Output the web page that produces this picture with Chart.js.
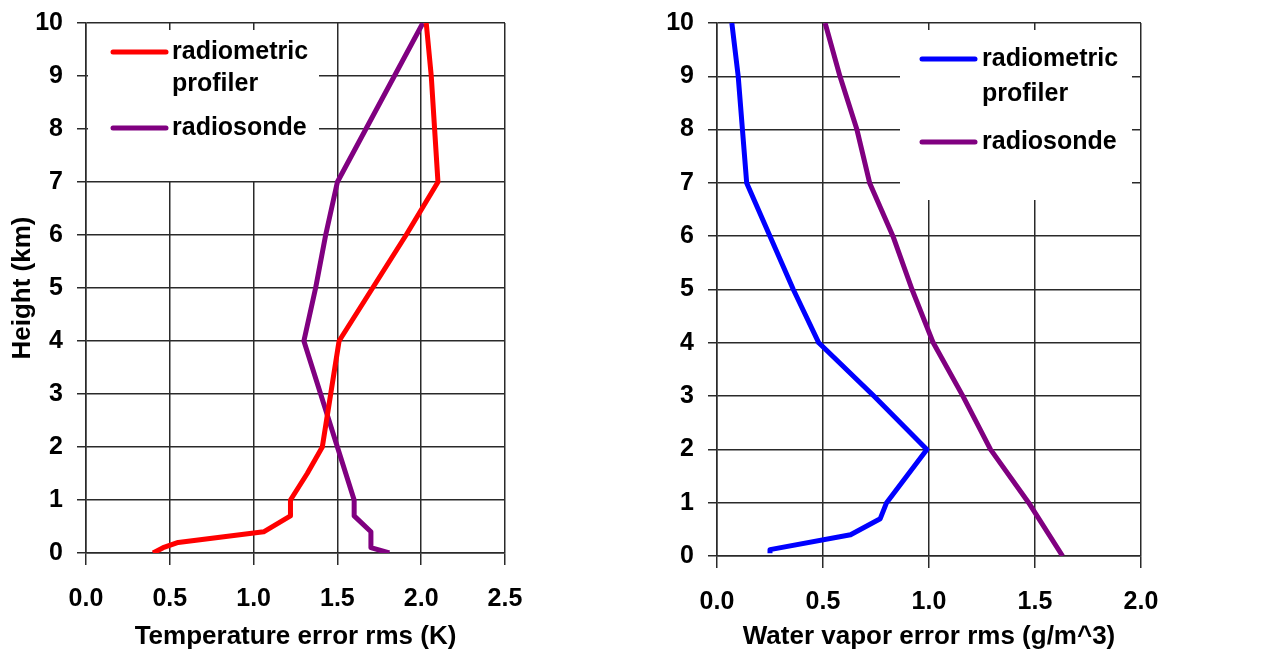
<!DOCTYPE html>
<html>
<head>
<meta charset="utf-8">
<script src="https://cdn.jsdelivr.net/npm/chart.js@4.4.0/dist/chart.umd.min.js"></script>
<style>
  body { margin: 0; background: #fff; }
  .wrap { position: absolute; top: 0; height: 652px; }
  #leftWrap { left: 0; width: 640px; }
  #rightWrap { left: 640px; width: 643px; }
</style>
</head>
<body>
<div class="wrap" id="leftWrap"><canvas id="tempChart"></canvas></div>
<div class="wrap" id="rightWrap"><canvas id="vaporChart"></canvas></div>
<script>
// TEMPERATURE PANEL DATA (height km -> rms error K)
const tempProfilerHeights = [0, 0.1, 0.2, 0.4, 0.7, 1, 1.5, 2, 3, 4, 5, 6, 7, 8, 9, 10];
const tempProfilerErr = [0.40, 0.46, 0.55, 1.06, 1.22, 1.22, 1.32, 1.41, 1.46, 1.51, 1.71, 1.91, 2.10, 2.08, 2.06, 2.03];
const tempSondeHeights = [0, 0.1, 0.4, 0.7, 1, 2, 3, 4, 5, 6, 7, 8, 9, 10];
const tempSondeErr = [1.81, 1.70, 1.70, 1.60, 1.60, 1.50, 1.40, 1.30, 1.37, 1.43, 1.50, 1.67, 1.84, 2.01];

// WATER VAPOR PANEL DATA (height km -> rms error g/m^3)
const vaporProfilerHeights = [0.05, 0.12, 0.4, 0.7, 1, 2, 3, 4, 5, 6, 7, 8, 9, 10];
const vaporProfilerErr = [0.25, 0.25, 0.63, 0.77, 0.80, 0.99, 0.74, 0.48, 0.36, 0.25, 0.14, 0.12, 0.10, 0.07];
const vaporSondeHeights = [0, 1, 2, 3, 4, 5, 6, 7, 8, 9, 10];
const vaporSondeErr = [1.63, 1.47, 1.29, 1.16, 1.02, 0.92, 0.83, 0.72, 0.66, 0.58, 0.51];

// LABELS
const profilerLabel = ["radiometric", "profiler"];
const sondeLabel = ["radiosonde"];
const heightTitle = "Height (km)";
const tempTitle = "Temperature error rms (K)";
const vaporTitle = "Water vapor error rms (g/m^3)";

const FONT = "'Liberation Sans', Arial, sans-serif";
const GRID = "#2a2a2a";

Chart.defaults.font.family = FONT;
Chart.defaults.font.weight = "bold";
Chart.defaults.color = "#000";

function toPoints(heights, values) {
  return heights.map((h, i) => ({ x: values[i], y: h }));
}

function lineSet(label, heights, values, color) {
  return {
    label: label.join(" "),
    data: toPoints(heights, values),
    showLine: true,
    borderColor: color,
    backgroundColor: color,
    borderWidth: 5,
    pointRadius: 0,
    tension: 0,
    borderJoinStyle: "round"
  };
}

// legend drawn inside the plot on a white box
const boxLegend = {
  id: "boxLegend",
  beforeDatasetsDraw(chart, args, opts) {
    const ctx = chart.ctx;
    const a = chart.chartArea;
    ctx.save();
    ctx.fillStyle = "#fff";
    ctx.fillRect(a.left + opts.box[0], a.top + opts.box[1],
      opts.box[2] - opts.box[0], opts.box[3] - opts.box[1]);
    ctx.font = "bold 25px " + FONT;
    ctx.textBaseline = "middle";
    ctx.lineCap = "round";
    chart.data.datasets.forEach((ds, i) => {
      const y = a.top + opts.rows[i];
      ctx.strokeStyle = ds.borderColor;
      ctx.lineWidth = 5;
      ctx.beginPath();
      ctx.moveTo(a.left + opts.sample[0], y);
      ctx.lineTo(a.left + opts.sample[1], y);
      ctx.stroke();
      ctx.fillStyle = "#000";
      opts.labels[i].forEach((line, j) => {
        ctx.fillText(line, a.left + opts.textX, y + j * opts.gap);
      });
    });
    ctx.restore();
  }
};

function xScale(max, title, height) {
  return {
    type: "linear",
    min: 0,
    max: max,
    ticks: {
      stepSize: 0.5,
      padding: 19,
      font: { size: 25, weight: "bold" },
      callback: v => v.toFixed(1)
    },
    grid: { color: GRID, lineWidth: 1.5, tickLength: 12, tickColor: GRID },
    border: { color: GRID, width: 1.5 },
    title: { display: true, text: title, font: { size: 26, weight: "bold" }, padding: { top: 0, bottom: 0 } },
    afterFit: s => { s.height = height; }
  };
}

function yScale(width, title) {
  return {
    type: "linear",
    min: 0,
    max: 10,
    ticks: { stepSize: 1, padding: 14, font: { size: 25, weight: "bold" } },
    grid: { color: GRID, lineWidth: 1.5, tickLength: 9, tickColor: GRID },
    border: { color: GRID, width: 1.5 },
    title: { display: !!title, text: title, font: { size: 26, weight: "bold" }, padding: { top: 7, bottom: 0 } },
    afterFit: s => {
      s.width = width;
      s.paddingTop = 0;
      s.paddingBottom = 0;
    }
  };
}

// TEMPERATURE CHART
new Chart(document.getElementById("tempChart"), {
  type: "scatter",
  data: {
    datasets: [
      lineSet(profilerLabel, tempProfilerHeights, tempProfilerErr, "#ff0000"),
      lineSet(sondeLabel, tempSondeHeights, tempSondeErr, "#800080")
    ]
  },
  options: {
    responsive: true,
    maintainAspectRatio: false,
    animation: false,
    layout: { padding: { top: 23, right: 135, left: 0, bottom: 0 } },
    plugins: {
      legend: { display: false },
      tooltip: { enabled: false },
      boxLegend: {
        box: [2, 7, 233, 158],
        sample: [27, 80],
        textX: 86,
        rows: [29, 105],
        gap: 32,
        labels: [profilerLabel, sondeLabel]
      }
    },
    scales: {
      x: xScale(2.5, tempTitle, 99),
      y: yScale(86, heightTitle)
    }
  },
  plugins: [boxLegend]
});

// WATER VAPOR CHART
new Chart(document.getElementById("vaporChart"), {
  type: "scatter",
  data: {
    datasets: [
      lineSet(profilerLabel, vaporProfilerHeights, vaporProfilerErr, "#0000ff"),
      lineSet(sondeLabel, vaporSondeHeights, vaporSondeErr, "#800080")
    ]
  },
  options: {
    responsive: true,
    maintainAspectRatio: false,
    animation: false,
    layout: { padding: { top: 23, right: 142, left: 0, bottom: 0 } },
    plugins: {
      legend: { display: false },
      tooltip: { enabled: false },
      boxLegend: {
        box: [183, 7, 415, 177],
        sample: [205, 258],
        textX: 265,
        rows: [36, 119],
        gap: 35,
        labels: [profilerLabel, sondeLabel]
      }
    },
    scales: {
      x: xScale(2.0, vaporTitle, 96),
      y: yScale(77, "")
    }
  },
  plugins: [boxLegend]
});
</script>
</body>
</html>
